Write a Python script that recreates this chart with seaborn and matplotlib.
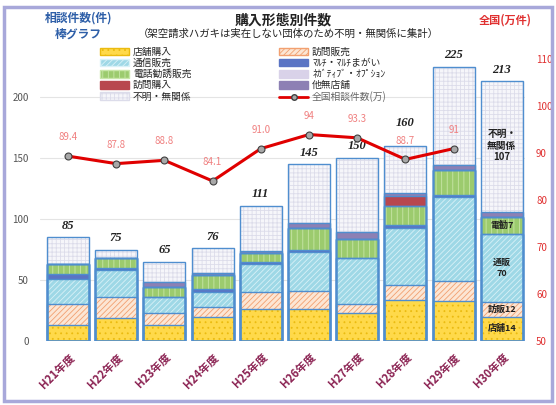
import numpy as np
import pandas as pd
import seaborn as sns
import matplotlib.pyplot as plt
from matplotlib.patches import Patch, Rectangle
from matplotlib.lines import Line2D


sns.set_theme(style="white")
plt.rcParams["font.family"] = ["Noto Sans CJK JP", "DejaVu Sans"]
plt.rcParams["hatch.linewidth"] = 0.6


years = ["H21年度", "H22年度", "H23年度", "H24年度", "H25年度",
         "H26年度", "H27年度", "H28年度", "H29年度", "H30年度"]

# counts per purchase type (bottom to top of the stack)
tenpo = [13, 19, 13, 20, 26, 26, 23, 34, 33, 20]
houmon = [17, 17, 10, 8, 14, 15, 7, 12, 16, 12]
tsuhan = [21, 22, 13, 12, 23, 32, 38, 47, 69, 56]
multi = [4, 2, 0, 3, 2, 2, 0, 2, 2, 0]
denkan = [8, 8, 8, 11, 7, 18, 16, 16, 20, 14]
nega = [0, 0, 0, 0, 0, 0, 0, 0, 0, 0]
houkou = [0, 0, 0, 0, 0, 0, 0, 8, 0, 0]
tamuten = [0, 0, 4, 2, 2, 4, 5, 2, 4, 4]
fumei = [22, 7, 17, 20, 37, 48, 61, 39, 81, 107]

# nationwide consultations (10k), H21-H29
zenkoku = [89.4, 87.8, 88.5, 84.1, 91.0, 94.0, 93.3, 88.7, 91.0]
zenkoku_labels = ["89.4", "87.8", "88.8", "84.1", "91.0", "94", "93.3", "88.7", "91"]

names = ["店舗購入", "訪問販売", "通信販売", "ﾏﾙﾁ・ﾏﾙﾁまがい", "電話勧誘販売",
         "ﾈｶﾞﾃｨﾌﾞ・ｵﾌﾟｼｮﾝ", "訪問購入", "他無店舗", "不明・無関係"]

# face colour, hatch, hatch colour
styles = {
    "店舗購入": ("#FFD94A", "...", "#EBBB10"),
    "訪問販売": ("#FCE6D4", "//////", "#F2A070"),
    "通信販売": ("#9ED8E6", "//////", "#D8F1F7"),
    "ﾏﾙﾁ・ﾏﾙﾁまがい": ("#5A74C4", "", "#5A74C4"),
    "電話勧誘販売": ("#9CCB6E", "|||", "#C8E6A8"),
    "ﾈｶﾞﾃｨﾌﾞ・ｵﾌﾟｼｮﾝ": ("#D9D2E9", "", "#D9D2E9"),
    "訪問購入": ("#B8474F", "", "#B8474F"),
    "他無店舗": ("#8D80B4", "", "#8D80B4"),
    "不明・無関係": ("#F6F6FA", "++++", "#DCDCEA"),
}

df = pd.DataFrame({
    "年度": years,
    "店舗購入": tenpo,
    "訪問販売": houmon,
    "通信販売": tsuhan,
    "ﾏﾙﾁ・ﾏﾙﾁまがい": multi,
    "電話勧誘販売": denkan,
    "ﾈｶﾞﾃｨﾌﾞ・ｵﾌﾟｼｮﾝ": nega,
    "訪問購入": houkou,
    "他無店舗": tamuten,
    "不明・無関係": fumei,
})
cum = df[names].cumsum(axis=1)
totals = cum[names[-1]].values

fig = plt.figure(figsize=(5.56, 4.05), dpi=100)
ax = fig.add_axes([40 / 556, 64 / 405, 485 / 556, 305 / 405])

# stacked bars: draw cumulative heights from the top layer down
for name in reversed(names):
    face, hatch, hc = styles[name]
    sns.barplot(x=df["年度"], y=cum[name], color=face, saturation=1, hatch=hatch,
                edgecolor=hc, linewidth=0, width=0.87, errorbar=None, ax=ax)

# segment outlines
for name in names:
    sns.barplot(x=df["年度"], y=cum[name], color="#4F8ECF", fill=False,
                linewidth=1.0, width=0.87, errorbar=None, ax=ax)

ax.set_xlim(-0.58, 9.48)
ax.set_ylim(0, 250)
ax.set_yticks([0, 50, 100, 150, 200])
ax.set_xlabel("")
ax.set_ylabel("")
ax.yaxis.grid(True, color="#E4E4E4", lw=0.8)
ax.set_axisbelow(True)
ax.tick_params(axis="y", length=0, labelsize=7, colors="#555555", pad=8)
ax.set_xticks(range(len(years)))
ax.set_xticklabels(years, rotation=45, ha="right", rotation_mode="anchor",
                   color="#8B2252", fontsize=8, fontweight="bold")
ax.tick_params(axis="x", length=0, pad=7)
sns.despine(ax=ax, left=True, bottom=True)

for i, t in enumerate(totals):
    off = 12 if i == 7 else 4
    ax.annotate(str(t), (i, t), xytext=(0, off), textcoords="offset points",
                ha="center", va="bottom", fontsize=9, fontweight="bold",
                style="italic", family="Liberation Serif", color="#222222")

# labels inside the H30 bar
h30 = df.iloc[9]
base = cum.iloc[9]
ax.text(9, 160, "不明・\n無関係\n107", ha="center", va="center", fontsize=7,
        fontweight="bold", linespacing=1.2, color="#222222")
ax.text(9, base["電話勧誘販売"] - h30["電話勧誘販売"] / 2, "電勧7", ha="center",
        va="center", fontsize=6.5, fontweight="bold", color="#222222")
ax.text(9, base["通信販売"] - h30["通信販売"] / 2, "通販\n70", ha="center",
        va="center", fontsize=6.5, fontweight="bold", color="#222222")
ax.text(9, base["訪問販売"] - h30["訪問販売"] / 2, "訪販12", ha="center",
        va="center", fontsize=6.5, fontweight="bold", color="#222222")
ax.text(9, base["店舗購入"] - h30["店舗購入"] / 2, "店舗14", ha="center",
        va="center", fontsize=6.5, fontweight="bold", color="#222222")

# nationwide line on the right axis
ax2 = ax.twinx()
sns.lineplot(x=np.arange(len(zenkoku)), y=zenkoku, ax=ax2, color="#E00000", lw=2.2,
             marker="o", markersize=5, markerfacecolor="#A8A8A8",
             markeredgecolor="#404040", markeredgewidth=0.8)
ax2.set_ylim(50, 115)
ax2.set_yticks([50, 60, 70, 80, 90, 100, 110])
ax2.tick_params(axis="y", length=0, labelsize=7, labelcolor="#E03030", pad=8)
ax2.grid(False)
sns.despine(ax=ax2, left=True, bottom=True, right=True)
ax.set_xlim(-0.58, 9.48)

for i, (v, lab) in enumerate(zip(zenkoku, zenkoku_labels)):
    ax2.annotate(lab, (i, v), xytext=(0, 10), textcoords="offset points",
                 ha="center", va="bottom", fontsize=7, color="#F08080")

# legend
handles = []
for name in names:
    face, hatch, hc = styles[name]
    handles.append(Patch(facecolor=face, hatch=hatch, edgecolor=hc, label=name))
handles.append(Line2D([], [], color="#E00000", lw=2, marker="o", markersize=4,
                      markerfacecolor="#A8A8A8", markeredgecolor="#404040",
                      label="全国相談件数(万)"))
order = [0, 2, 4, 6, 8, 1, 3, 5, 7, 9]
leg = ax2.legend([handles[k] for k in order], [handles[k].get_label() for k in order],
                 ncol=2, loc="upper left", bbox_to_anchor=(95 / 556, 1 - 42 / 405),
                 bbox_transform=fig.transFigure, frameon=False, fontsize=7,
                 handlelength=3.0, handleheight=0.8, handletextpad=0.4,
                 labelspacing=0.12, columnspacing=9.0, borderpad=0)
leg.get_texts()[-1].set_color("#666666")

# titles and axis captions
fig.text(45 / 556, 1 - 18 / 405, "相談件数(件)", color="#2E5FA8", fontsize=8.5,
         fontweight="bold", va="center")
fig.text(55 / 556, 1 - 34 / 405, "棒グラフ", color="#2E5FA8", fontsize=8.5,
         fontweight="bold", va="center")
fig.text(283 / 556, 1 - 20 / 405, "購入形態別件数", fontsize=10, fontweight="bold",
         ha="center", va="center", color="#222222")
fig.text(288 / 556, 1 - 34 / 405, "（架空請求ハガキは実在しない団体のため不明・無関係に集計）",
         fontsize=7.5, ha="center", va="center", color="#222222")
fig.text(505 / 556, 1 - 20 / 405, "全国(万件)", color="#E03030", fontsize=8,
         fontweight="bold", ha="center", va="center")

fig.patches.append(Rectangle((0.008, 0.01), 0.984, 0.972, transform=fig.transFigure,
                             fill=False, edgecolor="#A8A8DA", lw=2.5))

fig.savefig("out.png", dpi=100)
